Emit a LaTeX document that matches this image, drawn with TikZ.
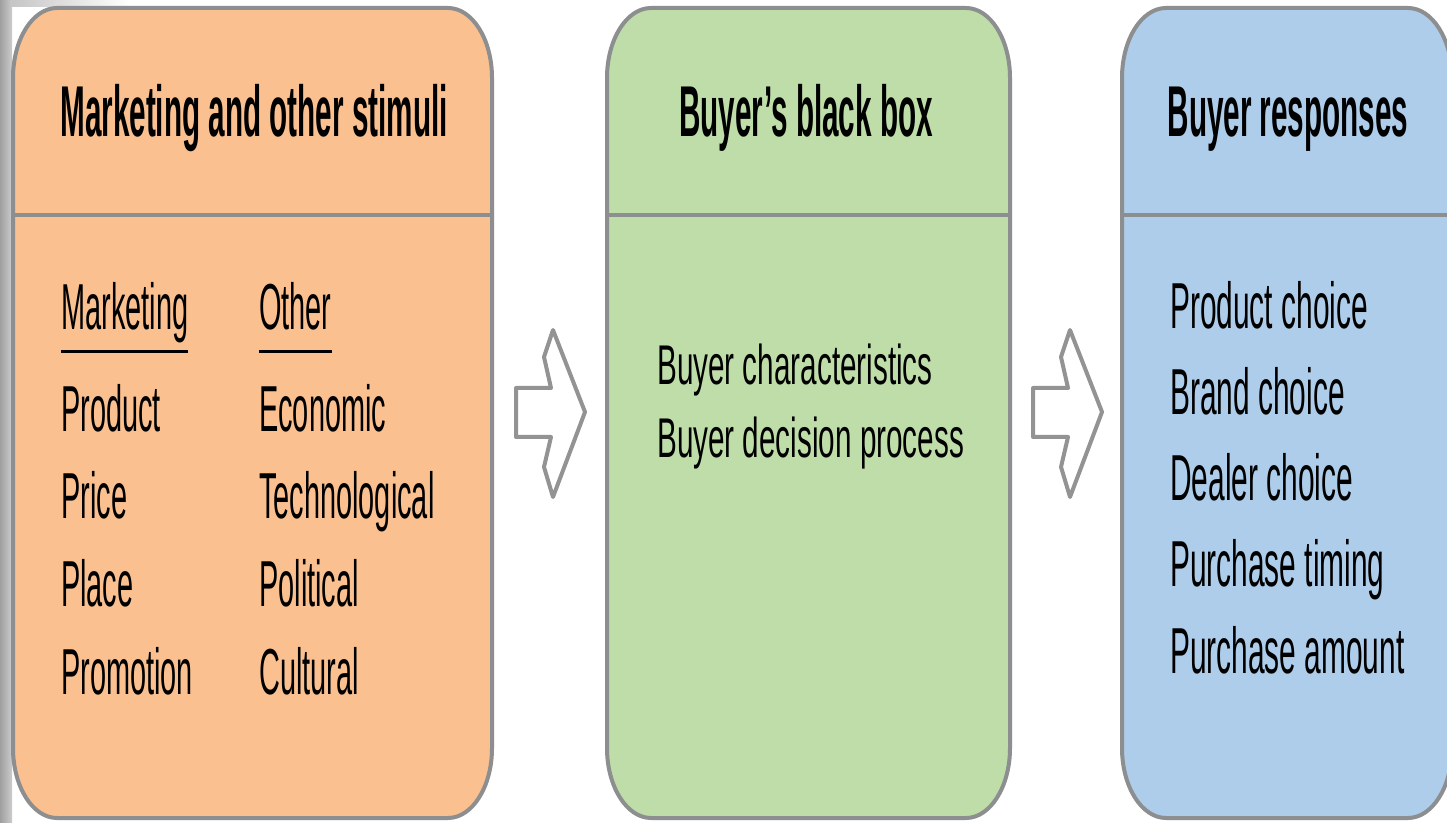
\documentclass[tikz,border=0pt]{standalone}
\usepackage{fontspec}
\newfontfamily\condfont{Liberation Sans}[FakeStretch=0.53]
\newfontfamily\leftfont{Liberation Sans}[FakeStretch=0.445]
\newfontfamily\rightfont{Liberation Sans}[FakeStretch=0.46]
\newfontfamily\titlefont{Liberation Sans}[FakeStretch=0.412]
\definecolor{orangefill}{HTML}{FAC08F}
\definecolor{greenfill}{HTML}{BEDDA8}
\definecolor{bluefill}{HTML}{AECDEA}
\definecolor{edgegray}{HTML}{8C8E90}
\definecolor{arrowgray}{HTML}{939393}
\newcommand\drawbuyerbox[3]{%
  \filldraw[boxline, fill=#1] ({#2+44},814) -- ({#3-44},814)
    arc[start angle=90,end angle=0,x radius=44,y radius=70] -- (#3,74)
    arc[start angle=0,end angle=-90,x radius=44,y radius=70] -- ({#2+44},4)
    arc[start angle=270,end angle=180,x radius=44,y radius=70] -- (#2,744)
    arc[start angle=180,end angle=90,x radius=44,y radius=70] -- cycle;
  \draw[boxline] (#2,607) -- (#3,607);}
\begin{document}
\begin{tikzpicture}[x=1pt,y=1pt,
  boxline/.style={draw=edgegray, line width=4pt},
  txt/.style={font=\condfont\fontsize{56}{60}\selectfont, inner sep=0pt, anchor=base west, text=black},
  ltxt/.style={font=\leftfont\fontsize{65}{70}\selectfont, inner sep=0pt, anchor=base west, text=black},
  rtxt/.style={font=\rightfont\fontsize{65}{70}\selectfont, inner sep=0pt, anchor=base west, text=black},
  ttl/.style={font=\titlefont\bfseries\fontsize{72}{76}\selectfont, inner sep=0pt, anchor=base, text=black},
  uline/.style={line width=3pt, draw=black},
  blockarrow/.style={draw=arrowgray, line width=4pt, fill=white, line join=round}]
\useasboundingbox (0,0) rectangle (1447,822);
\clip (0,0) rectangle (1447,822);
\fill[white] (0,0) rectangle (1447,822);
\shade[left color=gray!75, right color=gray!40] (0,0) rectangle (12,822);
\shade[left color=gray!45, right color=white] (12,815) rectangle (130,822);

% boxes
\drawbuyerbox{orangefill}{13}{492}
\drawbuyerbox{greenfill}{607}{1010}
\drawbuyerbox{bluefill}{1122}{1452}

% titles
\node[ttl] (t1) at (254,685) {Marketing and other stimuli};
\node[ttl] (t2) at (806,685) {Buyer’s black box};
\node[ttl] (t3) at (1288,685) {Buyer responses};

% left box body
\node[ltxt] (mk) at (61,492) {Marketing};
\node[ltxt] (ot) at (259,492) {Other};
\draw[uline] ([yshift=-22pt]mk.base west) -- ([yshift=-22pt]mk.base east);
\draw[uline] ([yshift=-22pt]ot.base west) -- ([yshift=-22pt]ot.base east);
\node[ltxt] (m1) at (61,390) {Product};
\node[ltxt] (m2) at (61,303) {Price};
\node[ltxt] (m3) at (61,215) {Place};
\node[ltxt] (m4) at (61,128) {Promotion};
\node[ltxt] (o1) at (259,390) {Economic};
\node[ltxt] (o2) at (259,303) {Technological};
\node[ltxt] (o3) at (259,215) {Political};
\node[ltxt] (o4) at (259,128) {Cultural};

% middle box body
\node[txt] (b1) at (657,437) {Buyer characteristics};
\node[txt] (b2) at (657,364) {Buyer decision process};

% right box body
\node[rtxt] (r1) at (1170,493) {Product choice};
\node[rtxt] (r2) at (1170,407) {Brand choice};
\node[rtxt] (r3) at (1170,321) {Dealer choice};
\node[rtxt] (r4) at (1170,235) {Purchase timing};
\node[rtxt] (r5) at (1170,149) {Purchase amount};

% block arrows
\draw[blockarrow] (516,434) -- (551,434) -- (544,465) -- (553,492) -- (585,410)
  -- (553,325) -- (544,355) -- (551,385) -- (516,385) -- cycle;
\draw[blockarrow] (1033,434) -- (1068,434) -- (1061,465) -- (1070,492) -- (1102,410)
  -- (1070,325) -- (1061,355) -- (1068,385) -- (1033,385) -- cycle;
\end{tikzpicture}
\end{document}
